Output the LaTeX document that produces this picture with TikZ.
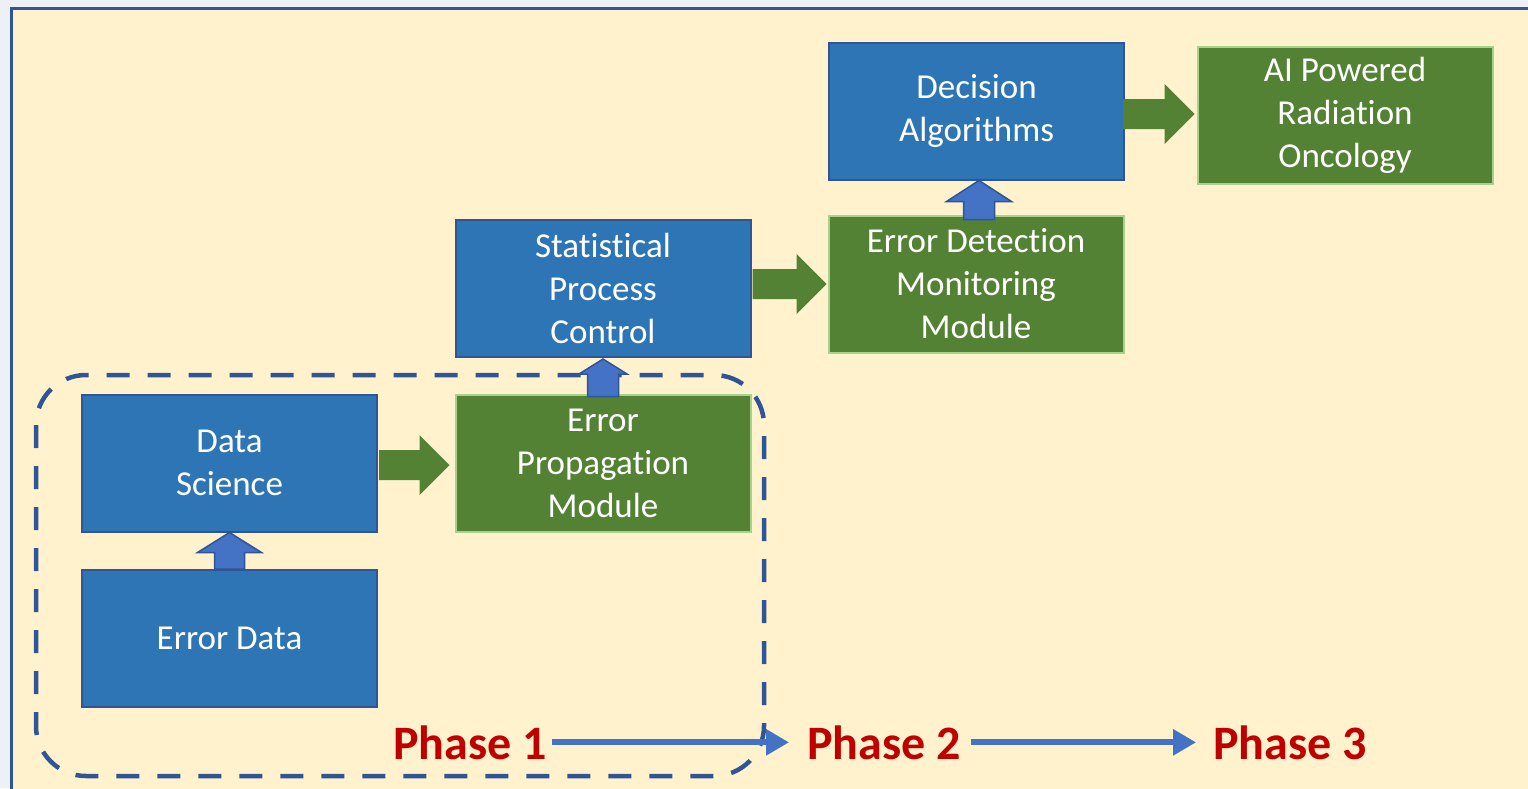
\documentclass[tikz,border=0pt]{standalone}
\usepackage{fontspec}
\setmainfont{Carlito}[Ligatures={NoCommon,NoRequired,NoContextual}]
\usetikzlibrary{arrows.meta,calc}

\definecolor{outerbg}{HTML}{EDF0F5}
\definecolor{cream}{HTML}{FFF2CC}
\definecolor{panelblue}{HTML}{2F5597}
\definecolor{boxblue}{HTML}{2E75B6}
\definecolor{edgeblue}{HTML}{2F5597}
\definecolor{boxgreen}{HTML}{548235}
\definecolor{edgegreen}{HTML}{A9D18E}
\definecolor{arrowblue}{HTML}{4472C4}
\definecolor{phasered}{HTML}{C00000}

% green block arrow pointing right: #1 tail anchor, #2 tip anchor
\newcommand\rightblock[2]{%
  \fill[greenarrow] let \p1=(#1), \p2=(#2) in
    (\x1,\y2+15) -- (\x2-30,\y2+15) -- (\x2-30,\y2+30) -- (\x2,\y2)
    -- (\x2-30,\y2-30) -- (\x2-30,\y2-15) -- (\x1,\y2-15) -- cycle;}

% blue block arrow pointing up: #1 tail anchor, #2 tip anchor,
% #3 shaft half width, #4 head half width, #5 head length
\newcommand\upblock[5]{%
  \filldraw[bluearrow] let \p1=(#1), \p2=(#2) in
    (\x2-#3,\y1) -- (\x2-#3,\y2-#5) -- (\x2-#4,\y2-#5) -- (\x2,\y2)
    -- (\x2+#4,\y2-#5) -- (\x2+#3,\y2-#5) -- (\x2+#3,\y1) -- cycle;}

\begin{document}
\begin{tikzpicture}[x=1pt,y=-1pt,
  box/.style={minimum width=295pt,minimum height=137pt,inner sep=0pt,
    font=\fontsize{35}{43}\selectfont,text=white,align=center,line width=2pt},
  bluebox/.style={box,fill=boxblue,draw=edgeblue},
  greenbox/.style={box,fill=boxgreen,draw=edgegreen},
  greenarrow/.style={fill=boxgreen},
  bluearrow/.style={fill=arrowblue,draw=edgeblue,line width=1.5pt,line join=miter},
  phase/.style={font=\fontsize{48}{56}\selectfont\bfseries,text=phasered,inner sep=0pt,anchor=base},
  phasearrow/.style={draw=arrowblue,line width=6pt,-{Triangle[width=25pt,length=23pt]}},
  region/.style={draw=panelblue,line width=4.5pt,dash pattern=on 23pt off 18pt,rounded corners=50pt}]

\useasboundingbox (0,0) rectangle (1528,788);

% page and panel
\fill[outerbg] (0,0) rectangle (1528,788);
\fill[cream] (11,8) rectangle (1530,790);
\draw[panelblue,line width=3pt] (11,790) -- (11,8.5) -- (1530,8.5);

% phase one grouping
\draw[region] (36,375) rectangle (764,776);

% process boxes
\node[bluebox]  (da)  at (976.5,111)   {Decision\\Algorithms};
\node[greenbox] (ai)  at (1345,115)    {AI Powered\\Radiation\\Oncology};
\node[bluebox]  (spc) at (603,288.5)   {Statistical\\Process\\Control};
\node[greenbox] (edm) at (976,284)     {Error Detection\\Monitoring\\Module};
\node[bluebox]  (ds)  at (229.5,463)   {Data\\Science};
\node[greenbox] (epm) at (603,463)     {Error\\Propagation\\Module};
\node[bluebox]  (ed)  at (229.5,638.5) {Error Data};

% block arrows between boxes
\rightblock{[xshift=1pt]ds.east}{[xshift=-5pt,yshift=-2pt]epm.west}
\rightblock{[xshift=1pt]spc.east}{[xshift=-1pt]edm.west}
\rightblock{[xshift=-2pt]da.east}{[xshift=-2pt,yshift=1pt]ai.west}
\upblock{ed.north}{ds.south}{15}{32}{20}
\upblock{[yshift=-3pt]epm.north}{[yshift=-1pt]spc.south}{15.5}{24}{15}
\upblock{[yshift=-5pt]edm.north}{[xshift=2.5pt]da.south}{15.5}{32.5}{21}

% phases
\node[phase] (p1) at (470,759)  {Phase 1};
\node[phase] (p2) at (884,759)  {Phase 2};
\node[phase] (p3) at (1290,759) {Phase 3};
\draw[phasearrow] ([xshift=5pt]p1.east) -- ([xshift=-18pt]p2.west);
\draw[phasearrow] ([xshift=10pt]p2.east) -- ([xshift=-17pt]p3.west);

\end{tikzpicture}
\end{document}
